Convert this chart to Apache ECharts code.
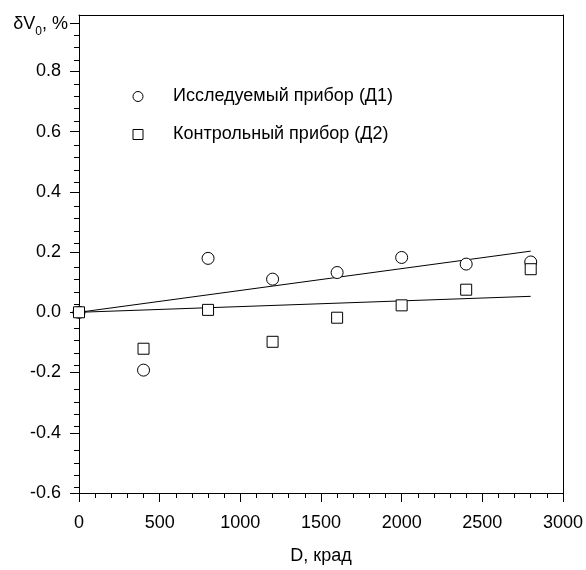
<!DOCTYPE html>
<html><head><meta charset="utf-8">
<script src="https://cdn.jsdelivr.net/npm/echarts@6/dist/echarts.min.js"></script>
<style>html,body{margin:0;padding:0;background:#fff}#c{width:586px;height:570px}</style>
</head><body><div id="c"></div>
<script>
// ---- data ----
const seriesNames = ['Исследуемый прибор (Д1)', 'Контрольный прибор (Д2)'];
const doses = [0, 400, 800, 1200, 1600, 2000, 2400, 2800];
const d1Values = [0, -0.192, 0.179, 0.110, 0.132, 0.182, 0.160, 0.167];
const d2Values = [0, -0.121, 0.008, -0.098, -0.018, 0.023, 0.075, 0.143];
const fitX = [0, 2800];
const fitD1 = [0, 0.203];
const fitD2 = [0, 0.053];
const yMajorTicks = [-0.6, -0.4, -0.2, 0, 0.2, 0.4, 0.6, 0.8, 0.96];
const yTickLabels = [-0.6, -0.4, -0.2, 0, 0.2, 0.4, 0.6, 0.8];
const yMinorTicks = [];
for (let i = -15; i <= 24; i++) { if (i % 5 !== 0) yMinorTicks.push(+(i * 0.04).toFixed(2)); }
const xTitle = 'D, крад';
const yTitle = '{a|δV}{s|0}{a|, %}';

// ---- chart ----
const FONT = '"Liberation Sans", Arial, sans-serif';
const BLACK = '#000';
const rect = {left: 79, right: 22.5, top: 15, bottom: 70.5};
const zip = (xs, ys) => xs.map((x, i) => [x, ys[i]]);
const yMin = -0.6, yMax = 0.987;

const chart = echarts.init(document.getElementById('c'), null, {renderer: 'canvas'});
chart.setOption({
  animation: false,
  backgroundColor: '#fff',
  grid: [Object.assign({}, rect), Object.assign({}, rect)],
  xAxis: [
    {gridIndex: 0, type: 'value', position: 'bottom', min: 0, max: 3000, interval: 500,
     axisLine: {onZero: false, lineStyle: {color: BLACK, width: 1}},
     axisTick: {length: 9, lineStyle: {color: BLACK}},
     minorTick: {show: true, splitNumber: 5, length: 5, lineStyle: {color: BLACK}},
     splitLine: {show: false},
     axisLabel: {color: BLACK, fontSize: 18, fontFamily: FONT, margin: 21, formatter: v => String(v)},
     name: xTitle, nameLocation: 'middle', nameGap: 54,
     nameTextStyle: {color: BLACK, fontSize: 18, fontFamily: FONT}},
    {gridIndex: 0, type: 'value', position: 'top', min: 0, max: 3000,
     axisLine: {show: true, onZero: false, lineStyle: {color: BLACK, width: 1}},
     axisTick: {show: false}, axisLabel: {show: false}, splitLine: {show: false}},
    {gridIndex: 1, type: 'value', min: 0, max: 3000, show: false}
  ],
  yAxis: [
    {gridIndex: 0, type: 'value', position: 'left', min: yMin, max: yMax, interval: 0.2,
     axisLine: {onZero: false, lineStyle: {color: BLACK, width: 1}},
     axisTick: {length: 9, customValues: yMajorTicks, lineStyle: {color: BLACK}},
     splitLine: {show: false},
     axisLabel: {customValues: yTickLabels, color: BLACK, fontSize: 18, fontFamily: FONT, margin: 18,
                 formatter: v => (+v).toFixed(1)}},
    {gridIndex: 0, type: 'value', position: 'right', min: yMin, max: yMax,
     axisLine: {show: true, onZero: false, lineStyle: {color: BLACK, width: 1}},
     axisTick: {show: false}, axisLabel: {show: false}, splitLine: {show: false}},
    {gridIndex: 1, type: 'value', position: 'left', min: yMin, max: yMax,
     axisLine: {show: false},
     axisTick: {length: 5, customValues: yMinorTicks, lineStyle: {color: BLACK}},
     axisLabel: {show: false}, splitLine: {show: false}}
  ],
  legend: {
    orient: 'vertical', left: 127.5, top: 82.5, itemWidth: 10, itemHeight: 10, itemGap: 20,
    data: [{name: seriesNames[0], icon: 'circle'}, {name: seriesNames[1], icon: 'rect'}],
    itemStyle: {color: '#fff', borderColor: BLACK, borderWidth: 1},
    textStyle: {color: BLACK, fontSize: 18, fontFamily: FONT, padding: [0, 0, 0, 25]}
  },
  graphic: [{
    type: 'text', x: 68, y: 24,
    style: {text: yTitle, align: 'right', verticalAlign: 'middle',
      rich: {
        a: {fontSize: 18, fontFamily: FONT, fill: BLACK, lineHeight: 28, verticalAlign: 'middle'},
        s: {fontSize: 12, fontFamily: FONT, fill: BLACK, lineHeight: 12, verticalAlign: 'bottom'}
      }}
  }],
  series: [
    {type: 'line', xAxisIndex: 0, yAxisIndex: 0, data: zip(fitX, fitD1), showSymbol: false, silent: true,
     lineStyle: {color: BLACK, width: 1}, z: 2},
    {type: 'line', xAxisIndex: 0, yAxisIndex: 0, data: zip(fitX, fitD2), showSymbol: false, silent: true,
     lineStyle: {color: BLACK, width: 1}, z: 2},
    {type: 'scatter', name: seriesNames[0], xAxisIndex: 0, yAxisIndex: 0, data: zip(doses, d1Values),
     symbol: 'circle', symbolSize: 12, z: 3,
     itemStyle: {color: '#fff', borderColor: BLACK, borderWidth: 1, opacity: 1}},
    {type: 'scatter', name: seriesNames[1], xAxisIndex: 0, yAxisIndex: 0, data: zip(doses, d2Values),
     symbol: 'rect', symbolSize: 11, z: 4,
     itemStyle: {color: '#fff', borderColor: BLACK, borderWidth: 1, opacity: 1}}
  ]
});
</script></body></html>
